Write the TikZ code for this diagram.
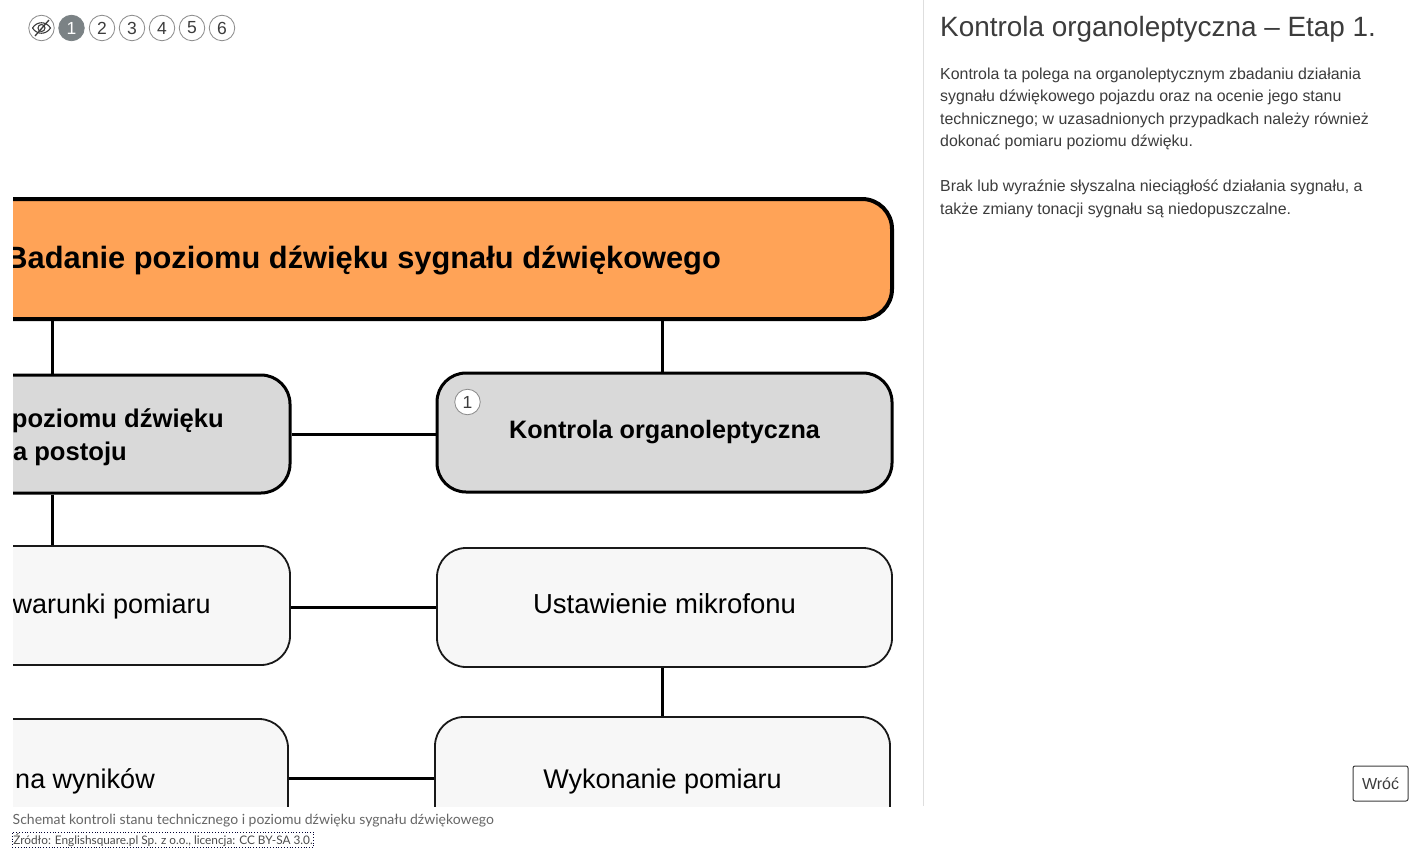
\documentclass[tikz,border=0pt]{standalone}
\usepackage{fontspec}
\setmainfont{Liberation Sans}
\newfontfamily\capfont{Lato}
\usetikzlibrary{positioning}
\definecolor{orangebox}{HTML}{FFA357}
\definecolor{greybox}{HTML}{D9D9D9}
\definecolor{lightbox}{HTML}{F7F7F7}
\definecolor{badgegrey}{HTML}{7B8285}
\definecolor{bodytext}{HTML}{3C3C3C}
\tikzset{
  headbox/.style={draw=black,line width=4pt,rounded corners=30pt,inner sep=0pt},
  stagebox/.style={draw=black,line width=3pt,fill=greybox,rounded corners=29pt,inner sep=0pt},
  stepbox/.style={draw=black!90,line width=1.8pt,fill=lightbox,rounded corners=29pt,inner sep=0pt},
  link/.style={draw=black,line width=3pt},
  badge/.style={circle,draw=black!45,fill=white,line width=.8pt,minimum size=25.5pt,inner sep=0pt,text=bodytext,font=\fontsize{17.5}{19}\selectfont},
  bodypar/.style={anchor=north west,inner sep=0pt,align=left,text=bodytext,font=\fontsize{15.9}{22.2}\selectfont}
}
\begin{document}
\begin{tikzpicture}[x=1pt,y=-1pt]
  \useasboundingbox (0,0) rectangle (1423,856);
  \fill[white] (0,0) rectangle (1423,856);

  \begin{scope}
    \clip (13,100) rectangle (923,806);
    % boxes, their left ends run out of the crop
    \node[headbox,fill=orangebox,minimum width=1000pt,minimum height=120pt] (badanie) at (392,259) {};
    \node[stagebox,minimum width=476pt,minimum height=118pt] (postoj) at (52,434) {};
    \node[stagebox,minimum width=455pt,minimum height=119pt] (kontrola) at (664.5,432.5) {};
    \node[stepbox,minimum width=476pt,minimum height=119pt] (warunki) at (52,605.5) {};
    \node[stepbox,minimum width=455pt,minimum height=119pt] (ustawienie) at (664.5,607.5) {};
    \node[stepbox,minimum width=472pt,minimum height=119pt] (wyniki) at (52,778.5) {};
    \node[stepbox,minimum width=455pt,minimum height=120pt] (wykonanie) at (662.5,777) {};

    \path[link]
    (badanie.south -| postoj.north) edge (postoj.north)
    (badanie.south -| wykonanie.north) edge (kontrola.north -| wykonanie.north)
    (postoj.east) edge (postoj.east -| kontrola.west)
    (postoj.south) edge (warunki.north)
    (warunki.east |- ustawienie.west) edge (ustawienie.west)
    (ustawienie.south -| wykonanie.north) edge (wykonanie.north)
    (wyniki.east) edge (wyniki.east -| wykonanie.west);

    % box texts
    \node[anchor=base east,inner sep=0pt,font=\fontsize{30.8}{36}\selectfont\bfseries] (badanietxt) at (721,268) {Badanie poziomu dźwięku sygnału dźwiękowego};
    \node[anchor=base east,inner sep=0pt,font=\fontsize{25.6}{30}\selectfont\bfseries] (postojtxt) at (224,427) {poziomu dźwięku};
    \node[anchor=base east,inner sep=0pt,font=\fontsize{25.6}{30}\selectfont\bfseries] (postojtxtb) at (127,460) {a postoju};
    \node[font=\fontsize{25.2}{30}\selectfont\bfseries,inner sep=0pt] (kontrolatxt) at (664.5,432) {Kontrola organoleptyczna};
    \node[anchor=base east,inner sep=0pt,font=\fontsize{27}{30}\selectfont] (warunkitxt) at (211,613) {warunki pomiaru};
    \node[font=\fontsize{27.5}{30}\selectfont,inner sep=0pt] (ustawienietxt) at (664.5,604) {Ustawienie mikrofonu};
    \node[anchor=base east,inner sep=0pt,font=\fontsize{27}{30}\selectfont] (wynikitxt) at (155,788) {na wyników};
    \node[font=\fontsize{27}{30}\selectfont,inner sep=0pt] (wykonanietxt) at (662.5,782) {Wykonanie pomiaru};
  \end{scope}

  % numbered badges
  \node[badge] (hide) at (41.5,28) {};
  \node[badge,fill=badgegrey,draw=badgegrey,text=white] (one) at (71.5,28) {1};
  \node[badge] (two) at (102,28) {2};
  \node[badge] (three) at (132,28) {3};
  \node[badge] (four) at (162,28) {4};
  \node[badge] (five) at (192,28) {5};
  \node[badge] (six) at (222,28) {6};
  \node[badge] (mark) at (467.5,402) {1};
  % crossed eye in the first badge
  \draw[bodytext,line width=1.1pt] (32.5,28) .. controls (37,21) and (46,21) .. (50.5,28) .. controls (46,35) and (37,35) .. (32.5,28);
  \draw[bodytext,line width=1.1pt] (41.5,28) circle (3.5pt);
  \draw[bodytext,line width=1.3pt] (35,36) -- (49,20);

  % right panel
  \draw[black!13,line width=1pt] (923.5,0) -- (923.5,806);
  \node[anchor=base west,inner sep=0pt,text=bodytext,font=\fontsize{27.9}{30}\selectfont] (title) at (940,37) {Kontrola organoleptyczna – Etap 1.};
  \node[bodypar] (parone) at (940,68) {Kontrola ta polega na organoleptycznym zbadaniu działania\\sygnału dźwiękowego pojazdu oraz na ocenie jego stanu\\technicznego; w uzasadnionych przypadkach należy również\\dokonać pomiaru poziomu dźwięku.};
  \node[bodypar] (partwo) at (940,180) {Brak lub wyraźnie słyszalna nieciągłość działania sygnału, a\\także zmiany tonacji sygnału są niedopuszczalne.};
  \node[draw=bodytext,line width=1pt,rounded corners=2pt,fill=white,minimum width=55pt,minimum height=35pt,inner sep=0pt,text=bodytext,font=\fontsize{16}{18}\selectfont] (back) at (1380.5,783.5) {Wróć};

  % caption
  \node[anchor=base west,inner sep=0pt,text=black!60,font=\capfont\fontsize{14}{16}\selectfont] (caption) at (12.5,824) {Schemat kontroli stanu technicznego i poziomu dźwięku sygnału dźwiękowego};
  \node[anchor=base west,inner sep=1pt,draw=black!80!blue,dotted,line width=.8pt,text=black!70,font=\capfont\fontsize{11.8}{14}\selectfont] (source) at (12,844) {Źródło: Englishsquare.pl Sp. z o.o., licencja: CC BY-SA 3.0.};
\end{tikzpicture}
\end{document}
